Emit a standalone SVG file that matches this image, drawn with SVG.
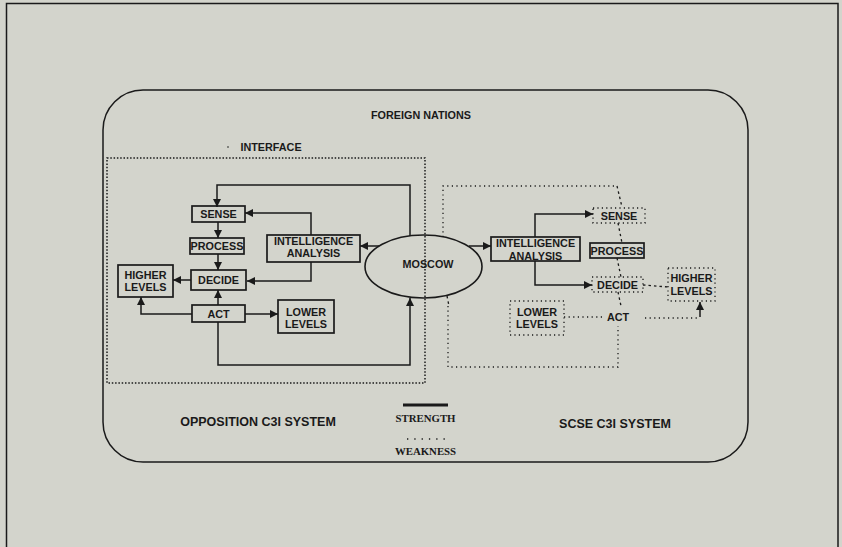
<svg xmlns="http://www.w3.org/2000/svg" width="842" height="547" viewBox="0 0 842 547">
<defs>
<style>
.t{font-family:"Liberation Sans",Arial,sans-serif;font-weight:bold;font-size:10.8px;fill:#1a1a1a;text-anchor:middle}
.big{font-size:12.5px}
.serif{font-family:"Liberation Serif","Times New Roman",serif;font-size:10.8px}
.box{fill:none;stroke:#1a1a1a;stroke-width:1.7}
.dbox{fill:none;stroke:#1a1a1a;stroke-width:1.3;stroke-dasharray:1.2 3.2}
.ln{fill:none;stroke:#1a1a1a;stroke-width:1.5}
.dl{fill:none;stroke:#1a1a1a;stroke-width:1.3;stroke-dasharray:1.2 3.4}
.hash{fill:none;stroke:#1a1a1a;stroke-width:1.3;stroke-dasharray:2.5 3}
.iface{fill:none;stroke:#1a1a1a;stroke-width:1.5;stroke-dasharray:1.5 1.8}
</style>
<marker id="ah" viewBox="0 0 10 10" refX="10" refY="5" markerWidth="11" markerHeight="8" markerUnits="userSpaceOnUse" orient="auto">
<path d="M0,0 L10,5 L0,10 z" fill="#1a1a1a"/>
</marker>
</defs>
<rect x="0" y="0" width="842" height="547" fill="#d3d4cc"/>
<rect x="6.5" y="3.5" width="831.5" height="560" fill="none" stroke="#1a1a1a" stroke-width="1.5"/>
<g id="foreign-nations">
<rect x="103" y="90" width="645" height="372" rx="40" ry="40" fill="none" stroke="#1a1a1a" stroke-width="1.5"/>
<text class="t" x="421" y="119">FOREIGN NATIONS</text>
</g>
<g id="interface">
<rect class="iface" x="107" y="158" width="318" height="225"/>
<circle cx="228" cy="147" r="0.8" fill="#1a1a1a"/>
<text class="t" x="271" y="151">INTERFACE</text>
</g>
<g id="connectors">
<path class="ln" d="M410,236 V185 H217 V207" marker-end="url(#ah)"/>
<path class="ln" d="M311,235 V213 H245" marker-end="url(#ah)"/>
<path class="ln" d="M311,262 V281 H247" marker-end="url(#ah)"/>
<path class="ln" d="M379,246 H360" marker-end="url(#ah)"/>
<path class="ln" d="M218,222 V238" marker-end="url(#ah)"/>
<path class="ln" d="M218,254 V270" marker-end="url(#ah)"/>
<path class="ln" d="M191,280 H173" marker-end="url(#ah)"/>
<path class="ln" d="M218,305 V290" marker-end="url(#ah)"/>
<path class="ln" d="M192,314 H141 V297" marker-end="url(#ah)"/>
<path class="ln" d="M245,314 H278" marker-end="url(#ah)"/>
<path class="ln" d="M218,322 V365 H410 V298" marker-end="url(#ah)"/>
<path class="ln" d="M469,246 H491" marker-end="url(#ah)"/>
<path class="ln" d="M535,237 V214 H593" marker-end="url(#ah)"/>
<path class="ln" d="M535,261 V285 H592" marker-end="url(#ah)"/>
<path class="dl" d="M443,237 V186 H617"/>
<path class="hash" d="M617,186 L622,207"/>
<path class="hash" d="M447,296 L449,306"/>
<path class="dl" d="M448,306 V367 H618 V326"/>
<path class="hash" d="M618,223 L622,243"/>
<path class="hash" d="M617,258 L621,277"/>
<path class="hash" d="M618,292 L621,306"/>
<path class="hash" d="M643,285 L668,287"/>
<path class="dl" d="M564,317 H604"/>
<path class="dl" d="M645,318 H697"/>
<path class="ln" d="M700,317 V302" marker-end="url(#ah)"/>
</g>
<g id="sense-opp"><rect class="box" x="192" y="206" width="53" height="16"/><text class="t" x="218.5" y="218">SENSE</text></g>
<g id="process-opp"><rect class="box" x="190" y="238" width="54" height="16"/><text class="t" x="217" y="250">PROCESS</text></g>
<g id="decide-opp"><rect class="box" x="191" y="270" width="55" height="20"/><text class="t" x="218.5" y="284">DECIDE</text></g>
<g id="higher-opp"><rect class="box" x="118" y="265" width="55" height="32"/><text class="t" x="145.5" y="279">HIGHER</text><text class="t" x="145.5" y="291">LEVELS</text></g>
<g id="act-opp"><rect class="box" x="192" y="305" width="53" height="17"/><text class="t" x="218.5" y="317.5">ACT</text></g>
<g id="lower-opp"><rect class="box" x="278" y="300" width="56" height="33"/><text class="t" x="306" y="316">LOWER</text><text class="t" x="306" y="328">LEVELS</text></g>
<g id="intel-opp"><rect class="box" x="267" y="235" width="93" height="27"/><text class="t" x="313.5" y="245">INTELLIGENCE</text><text class="t" x="313.5" y="257">ANALYSIS</text></g>
<g id="moscow"><ellipse cx="423.5" cy="266.5" rx="58.5" ry="31.5" fill="none" stroke="#1a1a1a" stroke-width="1.6"/><text class="t" x="428" y="268">MOSCOW</text></g>
<g id="intel-scse"><rect class="box" x="491" y="237" width="89" height="24"/><text class="t" x="535.5" y="247">INTELLIGENCE</text><text class="t" x="535.5" y="260">ANALYSIS</text></g>
<g id="sense-scse"><rect class="dbox" x="593" y="208" width="52" height="15"/><text class="t" x="619" y="219.5">SENSE</text></g>
<g id="process-scse"><rect class="box" x="590" y="243" width="54" height="15"/><text class="t" x="617" y="254.5">PROCESS</text></g>
<g id="decide-scse"><rect class="dbox" x="592" y="277" width="51" height="15"/><text class="t" x="617.5" y="288.5">DECIDE</text></g>
<g id="higher-scse"><rect class="dbox" x="668" y="268" width="47" height="33"/><text class="t" x="691.5" y="282">HIGHER</text><text class="t" x="691.5" y="295">LEVELS</text></g>
<g id="act-scse"><text class="t" x="618" y="321">ACT</text></g>
<g id="lower-scse"><rect class="dbox" x="510" y="301" width="54" height="34"/><text class="t" x="537" y="316">LOWER</text><text class="t" x="537" y="328">LEVELS</text></g>
<g id="labels">
<text class="t big" x="258" y="426">OPPOSITION C3I SYSTEM</text>
<text class="t big" x="615" y="428">SCSE C3I SYSTEM</text>
</g>
<g id="legend">
<line x1="403" y1="405" x2="448" y2="405" stroke="#1a1a1a" stroke-width="3"/>
<text class="t serif" x="425.5" y="422">STRENGTH</text>
<line x1="407" y1="439" x2="446" y2="439" stroke="#1a1a1a" stroke-width="1.3" stroke-dasharray="1.3 6"/>
<text class="t serif" x="425.5" y="455">WEAKNESS</text>
</g>
</svg>
